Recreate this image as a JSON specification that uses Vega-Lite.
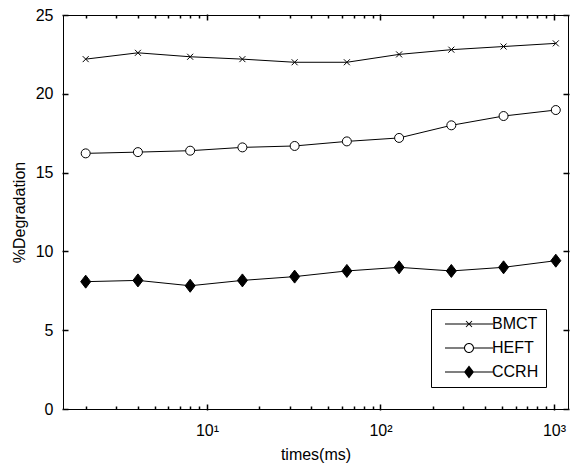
{
  "$schema": "https://vega.github.io/schema/vega-lite/v6.json",
  "width": 505,
  "height": 394,
  "autosize": "none",
  "padding": {"left": 63, "top": 15, "right": 6, "bottom": 57},
  "background": "white",
  "config": {
    "font": "Liberation Sans",
    "view": {"stroke": null},
    "axis": {
      "domainColor": "black", "labelColor": "black", "titleColor": "black",
      "grid": false, "labelFontSize": 16, "titleFontSize": 16, "titleFontWeight": "normal",
      "domainWidth": 1, "labelFont": "Liberation Sans", "titleFont": "Liberation Sans"
    }
  },
  "data": {
    "values": [
      {"series": "BMCT", "t": 2, "deg": 22.2},
      {"series": "BMCT", "t": 4, "deg": 22.6},
      {"series": "BMCT", "t": 8, "deg": 22.35},
      {"series": "BMCT", "t": 16, "deg": 22.2},
      {"series": "BMCT", "t": 32, "deg": 22.0},
      {"series": "BMCT", "t": 64, "deg": 22.0},
      {"series": "BMCT", "t": 128, "deg": 22.5},
      {"series": "BMCT", "t": 256, "deg": 22.8},
      {"series": "BMCT", "t": 512, "deg": 23.0},
      {"series": "BMCT", "t": 1024, "deg": 23.2},
      {"series": "HEFT", "t": 2, "deg": 16.22},
      {"series": "HEFT", "t": 4, "deg": 16.3},
      {"series": "HEFT", "t": 8, "deg": 16.39},
      {"series": "HEFT", "t": 16, "deg": 16.6},
      {"series": "HEFT", "t": 32, "deg": 16.69},
      {"series": "HEFT", "t": 64, "deg": 16.98},
      {"series": "HEFT", "t": 128, "deg": 17.2},
      {"series": "HEFT", "t": 256, "deg": 18.0},
      {"series": "HEFT", "t": 512, "deg": 18.59},
      {"series": "HEFT", "t": 1024, "deg": 18.97},
      {"series": "CCRH", "t": 2, "deg": 8.08},
      {"series": "CCRH", "t": 4, "deg": 8.16},
      {"series": "CCRH", "t": 8, "deg": 7.82},
      {"series": "CCRH", "t": 16, "deg": 8.16},
      {"series": "CCRH", "t": 32, "deg": 8.4},
      {"series": "CCRH", "t": 64, "deg": 8.76},
      {"series": "CCRH", "t": 128, "deg": 8.99},
      {"series": "CCRH", "t": 256, "deg": 8.76},
      {"series": "CCRH", "t": 512, "deg": 8.99},
      {"series": "CCRH", "t": 1024, "deg": 9.41}
    ]
  },
  "layer": [
    {
      "mark": {"type": "line", "color": "black", "strokeWidth": 1},
      "encoding": {
        "x": {
          "field": "t", "type": "quantitative",
          "scale": {"type": "log", "domain": [1.48, 1204], "nice": false},
          "axis": {
            "orient": "bottom", "title": "times(ms)",
            "ticks": true, "tickSize": 1, "tickColor": "black", "tickWidth": 1.5,
            "values": [10, 100, 1000],
            "labelExpr": "datum.value == 10 ? '10¹' : datum.value == 100 ? '10²' : '10³'",
            "labelPadding": 12, "titlePadding": 8, "labelFlush": false, "labelOverlap": false
          }
        },
        "y": {
          "field": "deg", "type": "quantitative",
          "scale": {"domain": [0, 25], "nice": false, "zero": false},
          "axis": {
            "orient": "left", "title": "%Degradation",
            "ticks": true, "tickSize": 1, "tickColor": "black", "tickWidth": 1.5,
            "values": [0, 5, 10, 15, 20, 25],
            "labelPadding": 9, "titlePadding": 8
          }
        },
        "detail": {"field": "series"}
      }
    },
    {
      "mark": {"type": "point", "filled": true, "stroke": "black", "strokeWidth": 1, "opacity": 1, "size": 100},
      "encoding": {
        "x": {
          "field": "t", "type": "quantitative",
          "scale": {"type": "log", "domain": [1.48, 1204], "nice": false},
          "axis": {"orient": "top", "title": null, "labels": false, "ticks": true, "tickSize": 1, "tickColor": "black", "tickWidth": 1.5, "values": [10, 100, 1000]}
        },
        "y": {
          "field": "deg", "type": "quantitative",
          "scale": {"domain": [0, 25], "nice": false, "zero": false},
          "axis": {"orient": "right", "title": null, "labels": false, "ticks": true, "tickSize": 1, "tickColor": "black", "tickWidth": 1.5, "values": [0, 5, 10, 15, 20, 25]}
        },
        "shape": {
          "field": "series", "type": "nominal",
          "scale": {"domain": ["BMCT", "HEFT", "CCRH"], "range": ["M-0.6,-0.6L0.6,0.6M-0.6,0.6L0.6,-0.6", "M-0.9,0A0.9,0.9,0,1,0,0.9,0A0.9,0.9,0,1,0,-0.9,0Z", "M0,-1.3L1,0L0,1.3L-1,0Z"]},
          "legend": null
        },
        "fill": {
          "field": "series", "type": "nominal",
          "scale": {"domain": ["BMCT", "HEFT", "CCRH"], "range": ["transparent", "white", "black"]},
          "legend": null
        }
      }
    },
    {
      "mark": {"type": "point", "opacity": 0},
      "encoding": {
        "x": {
          "field": "t", "type": "quantitative",
          "scale": {"type": "log", "domain": [1.48, 1204], "nice": false},
          "axis": {
            "orient": "top", "offset": -394, "title": null, "labels": false, "domain": false,
            "ticks": true, "tickColor": "black", "tickWidth": 1.5,
            "values": [2,3,4,5,6,7,8,9,10,20,30,40,50,60,70,80,90,100,200,300,400,500,600,700,800,900,1000],
            "tickSize": {"condition": {"test": "datum.value == 10 || datum.value == 100 || datum.value == 1000", "value": 5}, "value": 3}
          }
        },
        "y": {
          "field": "deg", "type": "quantitative",
          "scale": {"domain": [0, 25], "nice": false, "zero": false},
          "axis": {"orient": "right", "offset": -505, "title": null, "labels": false, "domain": false, "ticks": true, "tickColor": "black", "tickWidth": 1.5, "values": [0, 5, 10, 15, 20, 25], "tickSize": 5}
        }
      }
    },
    {
      "mark": {"type": "point", "opacity": 0},
      "encoding": {
        "x": {
          "field": "t", "type": "quantitative",
          "scale": {"type": "log", "domain": [1.48, 1204], "nice": false},
          "axis": {
            "orient": "bottom", "offset": -394, "title": null, "labels": false, "domain": false,
            "ticks": true, "tickColor": "black", "tickWidth": 1.5,
            "values": [2,3,4,5,6,7,8,9,10,20,30,40,50,60,70,80,90,100,200,300,400,500,600,700,800,900,1000],
            "tickSize": {"condition": {"test": "datum.value == 10 || datum.value == 100 || datum.value == 1000", "value": 5}, "value": 3}
          }
        },
        "y": {
          "field": "deg", "type": "quantitative",
          "scale": {"domain": [0, 25], "nice": false, "zero": false},
          "axis": {"orient": "left", "offset": -505, "title": null, "labels": false, "domain": false, "ticks": true, "tickColor": "black", "tickWidth": 1.5, "values": [0, 5, 10, 15, 20, 25], "tickSize": 5}
        }
      }
    },
    {
      "transform": [{"filter": "datum.t < 0"}],
      "mark": {"type": "point", "filled": true, "color": "black"},
      "encoding": {
        "shape": {
          "field": "series", "type": "nominal",
          "scale": {"domain": ["BMCT", "HEFT", "CCRH"], "range": [
            "M-4.8,-0.1H4.8V0.1H-4.8ZM-0.53,-0.67L0.67,0.53L0.53,0.67L-0.67,-0.53ZM-0.53,0.67L-0.67,0.53L0.53,-0.67L0.67,-0.53Z",
            "M-4.8,-0.1H-1V0.1H-4.8ZM1,-0.1H4.8V0.1H1ZM-1,0A1,1,0,1,0,1,0A1,1,0,1,0,-1,0ZM-0.8,0A0.8,0.8,0,1,1,0.8,0A0.8,0.8,0,1,1,-0.8,0Z",
            "M-4.8,-0.1H4.8V0.1H-4.8ZM0,-1.3L1,0L0,1.3L-1,0Z"]},
          "legend": {
            "title": null, "orient": "bottom-right", "offset": 22,
            "strokeColor": "black", "fillColor": "white", "padding": 7, "cornerRadius": 0,
            "labelFontSize": 16, "labelColor": "black", "labelFont": "Liberation Sans",
            "symbolSize": 100, "symbolFillColor": "black", "symbolStrokeWidth": 0, "symbolOpacity": 1,
            "symbolOffset": 23, "labelOffset": 15, "rowPadding": 8
          }
        }
      }
    }
  ],
  "resolve": {
    "axis": {"x": "independent", "y": "independent"},
    "scale": {"shape": "independent", "fill": "independent"},
    "legend": {"shape": "independent"}
  }
}
